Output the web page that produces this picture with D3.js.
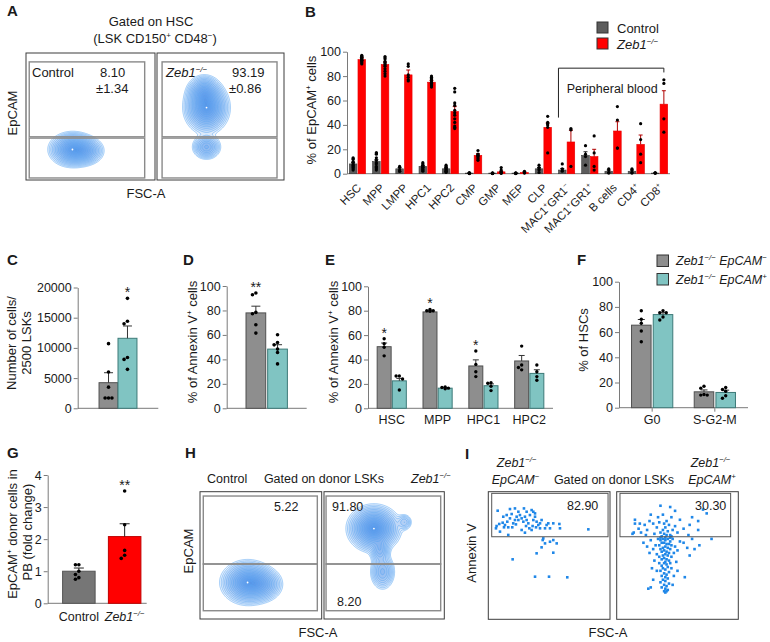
<!DOCTYPE html>
<html><head><meta charset="utf-8">
<script src="https://cdn.jsdelivr.net/npm/d3@7"></script>
<style>
body{margin:0;background:#fff}
svg{display:block}
text{font-family:"Liberation Sans",Arial,Helvetica,sans-serif;fill:#1a1a1a}
</style></head>
<body><svg id="chart" width="770" height="642"></svg>
<script>
// ================= DATA =================
// Panel B
const bCategories = ["HSC","MPP","LMPP","HPC1","HPC2","CMP","GMP","MEP","CLP","MAC1^+^GR1^−^","MAC1^+^GR1^+^","B cells","CD4^+^","CD8^+^"];
const bSeries = ["Control","Zeb1^−/−^"];
const bControlMeans = [8,10,4,6,4,0.5,0.5,0.5,4,3,15,2,2,0.5];
const bZebMeans = [93.5,89.5,81,75,51,15,1.5,1,38,26,14,35,24,57];
const bControlSEM = [1.2,1.5,1,0.6,0.5,0.1,0.1,0.1,1,1.2,3,1,1,0.2];
const bZebSEM = [1.5,2,4,1.5,4,1.4,0.5,0.3,3.5,9.6,6,7.6,7.7,11];
const bControlDots = [[13,12,12,10,9,8,7,6,5,4,3],[17,17,16,13,11,9,8,6,5,4,3],[6,5,3,2,2],[9,8,7,6,5,5,4,3,3,2],[7,6,5,5,4,3,3,2,2,1],[1,0.5,0.3,0.2,0.1],[0.6,0.4,0.3,0.2,0.1],[0.6,0.4,0.3,0.2,0.1],[7,5,4,3,1],[8,4,3,2],[23,16,14,7],[4,3,1,0.5],[4,3,1,0.5],[1,0.5,0.3]];
const bZebDots = [[97,96,96,95,95,94,94,93,93,92,91,90],[96,95,94,92,91,90,89,88,86,84,82,80],[90,88,81,79,77,76],[80,79,78,77,76,75,74,73,72,71],[70,67,58,56,52,50,48,45,42,39,38,37],[19,16,15,15,14,13,12,11],[5,3,2,1,0.5,0.3],[2,1.5,1,0.8,0.5],[47,42,41,40,38,17],[37,36,6],[31,17,6,3],[55,44,21,21],[41,28,16,9],[77,74,45,34]];
const bTicks = [0,20,40,60,80,100];

// Panel C
const cMeans = [4240, 11590];
const cSEM = [1650, 2040];
const cDots = [[10700,6000,3500,1700,1700,1700],[18200,14400,14000,8400,8100,6450]];
const cTicks = [0,5000,10000,15000,20000];

// Panel D
const dMeans = [78, 48.4];
const dSEM = [5.5, 3.6];
const dDots = [[94.3,92.9,78.4,77.3,68.3,61.5],[60.1,53.8,51.9,48.4,45.6,36.3]];
const pctTicks = [0,20,40,60,80,100];

// Panel E
const eCategories = ["HSC","MPP","HPC1","HPC2"];
const eGrayMeans = [50.5,79,34.7,38.8];
const eTealMeans = [22.5,16.5,18.5,28.6];
const eGraySEM = [3,1,5,4.5];
const eTealSEM = [2,0.5,1.5,3];
const eGrayDots = [[57,53,50,43],[81,80,80,79.5],[47,36,30,26],[51,35.5,33.5,31.5]];
const eTealDots = [[26.5,26.5,24,15],[17.5,17,16.5,16],[21,20.5,18,14.5],[35.5,30,26,23]];
const eStars = ["*","*","*",""];

// Panel F
const fCategories = ["G0","S-G2-M"];
const fSeries = ["Zeb1^−/−^ EpCAM^−^","Zeb1^−/−^ EpCAM^+^"];
const fGrayMeans = [65.5,12.6];
const fTealMeans = [73.9,12.1];
const fGraySEM = [4.5,1.5];
const fTealSEM = [1.5,1.8];
const fGrayDots = [[77,70.2,67,60.9,52.4],[17,15.5,10.5,10,10]];
const fTealDots = [[77,75.4,75.4,72,69.6],[16,14.5,13,9.5,7.5]];

// Panel G
const gCategories = ["Control","Zeb1^−/−^"];
const gMeans = [1.0, 2.08];
const gSEM = [0.1, 0.4];
const gDots = [[1.2,1.2,1.0,0.9,0.8,0.75],[3.5,2.45,1.65,1.5,1.4]];
const gTicks = [0,1,2,3,4];

// Panel A (flow contour blobs, gate coordinates in % of plot)
const aSamples = ["Control","Zeb1^−/−^"];
const aPercent = ["8.10","93.19"];
const aSD = ["±1.34","±0.86"];
const aControlBlobs = [{cx:36,cy:24,sx:7.2,sy:5.4,w:1},{cx:46,cy:23,sx:6,sy:4.6,w:0.5}];
const aZebBlobs = [{cx:39,cy:57,sx:7,sy:8,w:1},{cx:37,cy:69,sx:5.5,sy:5.5,w:0.55},{cx:39,cy:26,sx:4.8,sy:4.2,w:0.4}];
const aGatesControl = [{x0:2.5,x1:92,y0:34,y1:93},{x0:2.5,x1:92,y0:1.6,y1:33}];
const aGatesZeb = [{x0:4,x1:94.5,y0:34,y1:93},{x0:4,x1:94.5,y0:1.6,y1:33}];

// Panel H
const hControlBlobs = [{cx:39,cy:28.5,sx:8.6,sy:6.8,w:1},{cx:51,cy:27,sx:7,sy:5.6,w:0.45}];
const hZebBlobs = [{cx:41.6,cy:71,sx:8.6,sy:7.2,w:1},{cx:46.5,cy:54,sx:3.6,sy:4.8,w:0.3},{cx:48.8,cy:37,sx:4.5,sy:6.2,w:0.3},{cx:67,cy:76,sx:3,sy:3,w:0.15}];
const hGatesControl = [{x0:2.7,x1:96.4,y0:43.2,y1:96.6},{x0:2.7,x1:96.4,y0:6.5,y1:43.2}];
const hGatesZeb = [{x0:1.7,x1:97,y0:43.2,y1:96.6},{x0:1.7,x1:97,y0:6.5,y1:43.2}];
const hPercents = ["5.22","91.80","8.20"];

// Panel I (FSC-A, Annexin V in % of plot)
const iGateLeft = {x0:2.8,x1:98.4,y0:64.7,y1:98.7};
const iGateRight = {x0:2.7,x1:93.7,y0:64.7,y1:98.7};
const iPercents = ["82.90","30.30"];
const iLeftPoints = [[7.7,85.1],[17.8,86.4],[21.9,86.9],[29.3,86.9],[35.6,85.6],[37.0,84.3],[6.3,71.3],[6.8,73.1],[11.8,75.7],[15.6,76.5],[17.8,79.1],[20.5,75.2],[23.3,80.4],[24.7,77.8],[26.0,81.7],[27.4,79.1],[28.8,76.5],[30.1,80.4],[31.5,77.8],[32.9,75.2],[34.2,81.7],[37.0,77.8],[38.4,80.4],[39.7,76.5],[41.1,73.9],[42.5,75.2],[43.8,77.8],[46.6,71.3],[49.3,75.2],[50.7,71.3],[53.4,75.2],[58.4,74.7],[82.2,70.5],[16.4,66.1],[9.6,68.7],[12.9,72.1],[19.7,72.1],[30.1,67.9],[35.6,70.0],[42.5,71.3],[45.2,63.4],[46.6,59.5],[44.7,62.1],[50.7,60.8],[53.4,62.1],[56.2,59.5],[39.7,51.7],[53.4,52.2],[20.0,47.0],[38.4,33.4],[49.9,33.4],[64.9,32.9],[43.8,56.4],[27.4,70.0],[12.3,80.4],[15.1,81.7],[24.7,84.3],[31.5,84.3],[38.4,83.0],[13.7,73.9],[21.9,77.8],[31.0,73.1],[36.4,73.1],[47.9,73.9],[58.9,71.3],[9.0,74.7],[19.2,82.5],[22.7,74.4],[33.7,71.3],[39.2,72.1],[16.4,72.1]];
const iRightPoints = [[15,78],[15,75],[14,68],[13,67],[19,75],[23,74],[27,77],[30,75],[34,80],[38,82],[41,77],[36,89],[44,88],[48,85],[60,74],[67,77],[74,83],[67,70],[59,66],[52,78],[45,80],[40,72],[38,70],[42,69],[36,68],[44,66],[46,70],[33,72],[31,67],[25,70],[20,68],[55,71],[50,68],[48,73],[39,75],[43,74],[35,76],[28,82],[62,80],[71,86],[18,71],[24,66],[37,65],[41,66],[45,65],[39,67],[78,63],[68,58],
[38,63],[40,62],[42,63],[36,62],[44,61],[39,60],[41,59],[37,60],[43,59],[35,58],[45,58],[40,57],[38,56],[42,56],[36,55],[44,55],[39,54],[41,53],[37,53],[43,52],[40,51],[38,50],[42,50],[35,49],[45,49],[39,48],[41,47],[37,47],[43,46],[40,45],[32,58],[48,57],[30,55],[50,54],[28,62],[52,61],[33,51],[47,52],[55,60],[58,56],[60,50],[25,57],[22,60],[27,52],[62,63],[64,55],[31,46],[49,45],[34,63],[46,63],[40,64],[36,64],[44,64],
[39,44],[41,43],[37,42],[42,41],[38,40],[40,39],[36,38],[43,37],[39,36],[41,35],[37,34],[40,33],[42,32],[38,31],[40,30],[36,29],[43,28],[39,27],[41,26],[37,25],[40,24],[42,23],[39,22],[41,22],[40,21],[29,40],[30,31],[28,25],[47,34],[46,27],[56,33],[33,38],[45,40],[35,44],[44,44],[26,24],[50,38]];

// ================= DRAWING =================
const svg = d3.select("#chart");
const GRAY = "#8e8e8e", GRAY_S = "#505050", TEAL = "#80c4c2", TEAL_S = "#3d7a78", RED = "#ff0000";

function rich(t, str, fs){
  const parts = str.split("^"); let up = false;
  parts.forEach((p,i)=>{
    if(p==="") return;
    const sup = i%2===1;
    const ts = t.append("tspan").text(p).attr("font-size", sup ? fs*0.62 : fs);
    if(sup && !up){ ts.attr("dy", -fs*0.38); up = true; }
    else if(!sup && up){ ts.attr("dy", fs*0.38); up = false; }
  });
  return t;
}
function label(x, y, str, o={}){
  const fs = o.fs || 12.5;
  const t = svg.append("text").attr("x",x).attr("y",y).attr("font-size",fs)
    .attr("text-anchor", o.anchor || "start");
  if(o.italic) t.attr("font-style","italic");
  if(o.bold) t.attr("font-weight","bold");
  if(o.rotate !== undefined) t.attr("transform",`rotate(${o.rotate},${x},${y})`);
  return rich(t, str, fs);
}

function swarm(vals, y, cx, r, maxOff){
  const placed = [], out = [];
  const s = r*1.9;
  const cands = [0];
  for(let k=1; k*s<=maxOff+0.01; k++){ cands.push(-k*s, k*s); }
  vals.forEach((v,i)=>{
    const py = y(v);
    let off = null;
    for(const c of cands){
      if(placed.every(p => Math.hypot(p[0]-c, p[1]-py) >= 2*r*0.92)){ off = c; break; }
    }
    if(off === null) off = cands[i % cands.length];
    placed.push([off, py]);
    out.push([cx+off, py]);
  });
  return out;
}

function barPanel(o){
  const g = svg.append("g");
  const n = o.means[0].length;
  const x = d3.scaleBand().domain(d3.range(n)).range(o.xRange)
    .paddingInner(o.padIn).paddingOuter(o.padOut).align(o.align ?? 0.5);
  const xi = d3.scaleBand().domain(d3.range(o.means.length)).range([0, x.bandwidth()]).paddingInner(o.subPad);
  const y = d3.scaleLinear().domain(o.yDomain).range(o.yRange);
  const ax = g.append("g").attr("transform",`translate(${o.xRange[0]},0)`)
    .call(d3.axisLeft(y).tickValues(o.ticks).tickSize(4).tickSizeOuter(0).tickPadding(2).tickFormat(d3.format("d")));
  ax.select(".domain").attr("stroke","#7a7a7a");
  ax.selectAll(".tick line").attr("stroke","#7a7a7a");
  ax.selectAll(".tick text").attr("font-size", o.tickFs || 12.5).attr("fill","#222")
    .attr("font-family",'"Liberation Sans",Arial,sans-serif');
  g.append("line").attr("x1",o.xRange[0]).attr("x2",o.xRange[1]).attr("y1",y(0)).attr("y2",y(0)).attr("stroke","#7a7a7a");
  if(o.xTicks){
    for(let ci=0; ci<n; ci++){
      const cx = x(ci) + x.bandwidth()/2;
      g.append("line").attr("x1",cx).attr("x2",cx).attr("y1",y(0)).attr("y2",y(0)+4).attr("stroke","#7a7a7a");
    }
  }
  const bars = g.append("g"), errs = g.append("g"), dots = g.append("g");
  o.means.forEach((arr, si)=>{
    arr.forEach((v, ci)=>{
      const bx = x(ci) + xi(si), bw = xi.bandwidth();
      bars.append("rect").attr("x",bx).attr("y",y(v)).attr("width",bw).attr("height",y(0)-y(v))
        .attr("fill",o.fills[si]).attr("stroke",o.strokes[si]).attr("stroke-width",o.strokeW ?? 1);
      const e = v + o.sems[si][ci], cx = bx + bw/2;
      errs.append("line").attr("x1",cx).attr("x2",cx).attr("y1",y(v)).attr("y2",y(e)).attr("stroke",o.errColors[si]).attr("stroke-width",1);
      errs.append("line").attr("x1",cx-o.capW/2).attr("x2",cx+o.capW/2).attr("y1",y(e)).attr("y2",y(e)).attr("stroke",o.errColors[si]).attr("stroke-width",1);
      const pts = swarm(o.dots[si][ci], y, cx, o.dotR, bw*0.32);
      pts.forEach(p => dots.append("circle").attr("cx",p[0]).attr("cy",p[1]).attr("r",o.dotR).attr("fill","#000"));
    });
  });
  return {x, xi, y, g};
}

function drawContours(box, blobs){
  const w = Math.round(box.x1-box.x0), h = Math.round(box.y1-box.y0);
  const vals = new Float64Array(w*h);
  const bl = blobs.map(b=>({cx:b.cx/100*w, cy:(1-b.cy/100)*h, sx:b.sx/100*w, sy:b.sy/100*h, w:b.w}));
  for(let j=0;j<h;j++) for(let i=0;i<w;i++){
    let v = 0;
    for(const b of bl){ const dx=(i+0.5-b.cx)/b.sx, dy=(j+0.5-b.cy)/b.sy; v += b.w*Math.exp(-0.5*(dx*dx+dy*dy)); }
    vals[j*w+i] = v;
  }
  const mx = d3.max(vals), N = 17;
  const thr = d3.range(N).map(k=>{ const f = 1-k/N; return mx*Math.pow(0.025, f*f); });
  const cs = d3.contours().size([w,h]).thresholds(thr)(vals);
  const path = d3.geoPath(d3.geoIdentity().translate([box.x0, box.y0]));
  const g = svg.append("g");
  g.selectAll("path").data(cs).join("path").attr("d", path)
    .attr("fill","#2a82e4").attr("fill-opacity",0.085)
    .attr("stroke","#5aa6f2").attr("stroke-width",0.6).attr("stroke-opacity",0.9);
  const main = bl[0];
  g.append("circle").attr("cx",box.x0+main.cx).attr("cy",box.y0+main.cy).attr("r",0.9).attr("fill","#fff");
}

function boxScales(box){
  return {x: d3.scaleLinear([0,100],[box.x0,box.x1]), y: d3.scaleLinear([0,100],[box.y1,box.y0])};
}
function drawBox(box){
  svg.append("rect").attr("x",box.x0).attr("y",box.y0).attr("width",box.x1-box.x0).attr("height",box.y1-box.y0)
    .attr("fill","none").attr("stroke","#3c3c3c").attr("stroke-width",1);
}
function drawGates(box, gates, color, sw){
  const s = boxScales(box);
  gates.forEach(gt=>{
    svg.append("rect").attr("x",s.x(gt.x0)).attr("y",s.y(gt.y1)).attr("width",s.x(gt.x1)-s.x(gt.x0)).attr("height",s.y(gt.y0)-s.y(gt.y1))
      .attr("fill","none").attr("stroke",color).attr("stroke-width",sw);
  });
}

// ---------- Panel letters ----------
[["A",7,16],["B",305,17],["C",7,265],["D",183,265],["E",325,265],["F",577,265],["G",7,458],["H",185,458],["I",465,459]]
  .forEach(d=>label(d[1],d[2],d[0],{fs:15,bold:true}));

// ---------- Panel A ----------
label(151,26,"Gated on HSC",{anchor:"middle",fs:13});
label(155,43,"(LSK CD150^+^ CD48^−^)",{anchor:"middle",fs:13});
const aBoxes = [{x0:26,x1:155,y0:53,y1:180},{x0:157,x1:284,y0:53,y1:180}];
drawContours(aBoxes[0], aControlBlobs);
drawContours(aBoxes[1], aZebBlobs);
drawBox(aBoxes[0]); drawBox(aBoxes[1]);
drawGates(aBoxes[0], aGatesControl, "#8a8a8a", 1.4);
drawGates(aBoxes[1], aGatesZeb, "#8a8a8a", 1.4);
label(32,77,aSamples[0],{fs:13});
label(100,77,aPercent[0],{fs:13});
label(96,93,aSD[0],{fs:13});
label(166,77,aSamples[1],{fs:13,italic:true});
label(232,77,aPercent[1],{fs:13});
label(229,93,aSD[1],{fs:13});
label(17,113,"EpCAM",{fs:13,anchor:"middle",rotate:-90});
label(146,198,"FSC-A",{fs:13,anchor:"middle"});

// ---------- Panel B ----------
const B = barPanel({
  xRange:[347,670], yRange:[173.7,51.7], yDomain:[0,100], ticks:bTicks,
  padIn:0.3, padOut:0.1, subPad:0.12,
  means:[bControlMeans,bZebMeans], sems:[bControlSEM,bZebSEM], dots:[bControlDots,bZebDots],
  fills:["#5c5c5c",RED], strokes:["#3a3a3a","#e60000"], errColors:["#222","#b00000"], strokeW:0.6,
  dotR:1.6, capW:4, tickFs:12.5
});
bCategories.forEach((c,i)=>{
  const cx = B.x(i) + B.x.bandwidth()/2 + 4.5;
  label(cx,188.5,c,{fs:11.5,anchor:"end",rotate:-45});
});
label(316,110,"% of EpCAM^+^ cells",{fs:13,anchor:"middle",rotate:-90});
// legend
svg.append("rect").attr("x",597).attr("y",22).attr("width",11).attr("height",11).attr("fill","#5c5c5c").attr("stroke","#333");
svg.append("rect").attr("x",597).attr("y",38).attr("width",11).attr("height",11).attr("fill",RED).attr("stroke","#333");
label(617,32.5,bSeries[0],{fs:13});
label(617,48.5,bSeries[1],{fs:13,italic:true});
// peripheral blood bracket
{
  const xl = B.x(9), xr = B.x(13) + B.xi(1) + B.xi.bandwidth()/2;
  const yt = B.y(86.5);
  svg.append("path").attr("d",`M${xl},${B.y(46)}V${yt}H${xr}V${B.y(83)}`).attr("fill","none").attr("stroke","#222").attr("stroke-width",1);
  label((xl+xr)/2+1,93,"Peripheral blood",{fs:12.5,anchor:"middle"});
}

// ---------- Panel C ----------
const C = barPanel({
  xRange:[77.7,158.3], yRange:[408.3,287.5], yDomain:[0,20000], ticks:cTicks,
  padIn:0.2, padOut:0.45, subPad:0,
  means:[[cMeans[0]],[cMeans[1]]], sems:[[cSEM[0]],[cSEM[1]]], dots:[[cDots[0]],[cDots[1]]],
  fills:[GRAY,TEAL], strokes:[GRAY_S,TEAL_S], errColors:["#333","#333"], dotR:1.8, capW:9
});
label(15.5,343,"Number of cells/",{fs:13,anchor:"middle",rotate:-90});
label(31,343,"2500 LSKs",{fs:13,anchor:"middle",rotate:-90});
{
  const cx = C.x(0)+C.xi(1)+C.xi.bandwidth()/2;
  label(cx, C.y(d3.max(cDots[1]))-1, "*",{fs:14,anchor:"middle"});
}

// ---------- Panel D ----------
const D = barPanel({
  xRange:[226.7,306.7], yRange:[408.3,286], yDomain:[0,100], ticks:pctTicks,
  padIn:0.1, padOut:0.42, subPad:0.09,
  means:[[dMeans[0]],[dMeans[1]]], sems:[[dSEM[0]],[dSEM[1]]], dots:[[dDots[0]],[dDots[1]]],
  fills:[GRAY,TEAL], strokes:[GRAY_S,TEAL_S], errColors:["#333","#333"], dotR:1.8, capW:9
});
label(197,342,"% of Annexin V^+^ cells",{fs:13,anchor:"middle",rotate:-90});
{
  const cx = D.x(0)+D.xi(0)+D.xi.bandwidth()/2;
  label(cx, D.y(d3.max(dDots[0]))-1, "**",{fs:14,anchor:"middle"});
}

// ---------- Panel E ----------
const E = barPanel({
  xRange:[368,553], yRange:[408.3,286.3], yDomain:[0,100], ticks:pctTicks,
  padIn:0.364, padOut:0.2, subPad:0.08,
  means:[eGrayMeans,eTealMeans], sems:[eGraySEM,eTealSEM], dots:[eGrayDots,eTealDots],
  fills:[GRAY,TEAL], strokes:[GRAY_S,TEAL_S], errColors:["#333","#333"], dotR:1.7, capW:6
});
label(338,342,"% of Annexin V^+^ cells",{fs:13,anchor:"middle",rotate:-90});
eCategories.forEach((c,i)=>{
  label(E.x(i)+E.x.bandwidth()/2, 424, c, {fs:12.5,anchor:"middle"});
  if(eStars[i]){
    const cx = E.x(i)+E.xi(0)+E.xi.bandwidth()/2;
    const top = Math.max(d3.max(eGrayDots[i]), eGrayMeans[i]+eGraySEM[i]);
    label(cx, E.y(top)-1, eStars[i], {fs:14,anchor:"middle"});
  }
});

// ---------- Panel F ----------
const F = barPanel({
  xRange:[619,748], yRange:[407.7,281.7], yDomain:[0,100], ticks:pctTicks,
  padIn:0.342, padOut:0.2, subPad:0.1, xTicks:true,
  means:[fGrayMeans,fTealMeans], sems:[fGraySEM,fTealSEM], dots:[fGrayDots,fTealDots],
  fills:[GRAY,TEAL], strokes:[GRAY_S,TEAL_S], errColors:["#333","#333"], dotR:1.7, capW:7
});
label(588,340,"% of HSCs",{fs:13,anchor:"middle",rotate:-90});
fCategories.forEach((c,i)=>label(F.x(i)+F.x.bandwidth()/2, 424, c, {fs:12.5,anchor:"middle"}));
svg.append("rect").attr("x",657).attr("y",255).attr("width",11.5).attr("height",11.5).attr("fill",GRAY).attr("stroke","#333");
svg.append("rect").attr("x",657).attr("y",273.5).attr("width",11.5).attr("height",11.5).attr("fill",TEAL).attr("stroke","#333");
label(676,265,fSeries[0],{fs:12.5,italic:true});
label(676,283.5,fSeries[1],{fs:12.5,italic:true});

// ---------- Panel G ----------
const G = barPanel({
  xRange:[47.7,146.7], yRange:[603.3,475], yDomain:[0,4], ticks:gTicks,
  padIn:0.29, padOut:0.226, align:0.72, subPad:0,
  means:[gMeans], sems:[gSEM], dots:[gDots],
  fills:["#767676"], strokes:["#555"], errColors:["#222"], dotR:1.8, capW:10
});
G.g.selectAll("rect").filter((d,i)=>i===1).attr("fill",RED).attr("stroke","#c00000");
gCategories.forEach((c,i)=>label(G.x(i)+G.x.bandwidth()/2, 620.5, c, {fs:12.5,anchor:"middle",italic:i===1}));
label(17,534,"EpCAM^+^ donor cells in",{fs:13,anchor:"middle",rotate:-90});
label(32,532,"PB (fold change)",{fs:13,anchor:"middle",rotate:-90});
label(G.x(1)+G.x.bandwidth()/2, G.y(d3.max(gDots[1]))-1, "**",{fs:14,anchor:"middle"});

// ---------- Panel H ----------
const hBoxes = [{x0:200,x1:321.7,y0:491.7,y1:619},{x0:324,x1:444.3,y0:491.7,y1:619}];
drawContours(hBoxes[0], hControlBlobs);
drawContours(hBoxes[1], hZebBlobs);
drawBox(hBoxes[0]); drawBox(hBoxes[1]);
drawGates(hBoxes[0], hGatesControl, "#8a8a8a", 1.4);
drawGates(hBoxes[1], hGatesZeb, "#8a8a8a", 1.4);
label(207,483,"Control",{fs:12.5});
label(324,483,"Gated on donor LSKs",{fs:12.5,anchor:"middle"});
label(411,483,"Zeb1^−/−^",{fs:12.5,italic:true});
label(274,510.5,hPercents[0],{fs:12.5});
label(332,510.5,hPercents[1],{fs:12.5});
label(337,605.5,hPercents[2],{fs:12.5});
label(193,551,"EpCAM",{fs:13,anchor:"middle",rotate:-90});
label(318,637,"FSC-A",{fs:13,anchor:"middle"});

// ---------- Panel I ----------
const iBoxes = [{x0:488.3,x1:610,y0:491.7,y1:619.3},{x0:616.7,x1:738.3,y0:491.7,y1:619.3}];
[[iBoxes[0],iLeftPoints],[iBoxes[1],iRightPoints]].forEach(([box,pts])=>{
  const s = boxScales(box);
  svg.append("g").selectAll("rect").data(pts).join("rect")
    .attr("x",d=>s.x(d[0])-1.3).attr("y",d=>s.y(d[1])-1.3).attr("width",2.6).attr("height",2.6)
    .attr("fill","#1f87e8");
});
drawBox(iBoxes[0]); drawBox(iBoxes[1]);
drawGates(iBoxes[0],[iGateLeft],"#555",1);
drawGates(iBoxes[1],[iGateRight],"#555",1);
label(567,510,iPercents[0],{fs:12.5});
label(695,510,iPercents[1],{fs:12.5});
label(516.7,467,"Zeb1^−/−^",{fs:12.5,anchor:"middle",italic:true});
label(515.5,484,"EpCAM^−^",{fs:12.5,anchor:"middle",italic:true});
label(614,484,"Gated on donor LSKs",{fs:12.5,anchor:"middle"});
label(710.5,467,"Zeb1^−/−^",{fs:12.5,anchor:"middle",italic:true});
label(712,484,"EpCAM^+^",{fs:12.5,anchor:"middle",italic:true});
label(476,553,"Annexin V",{fs:13,anchor:"middle",rotate:-90});
label(608,637,"FSC-A",{fs:13,anchor:"middle"});
</script></body></html>
